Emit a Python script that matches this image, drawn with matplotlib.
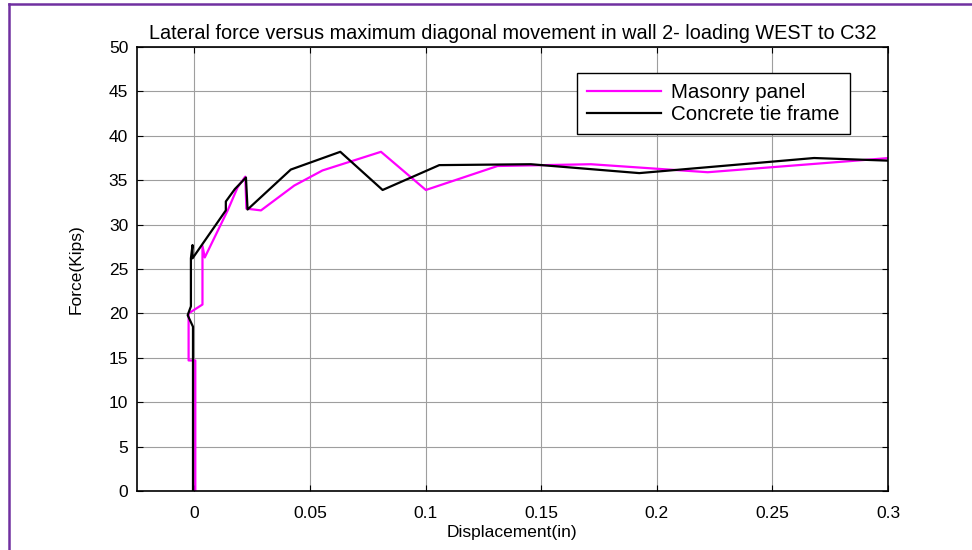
import matplotlib
matplotlib.use("Agg")
import matplotlib.pyplot as plt
from matplotlib.lines import Line2D

# ---------------------------------------------------------------------------
# Data
# ---------------------------------------------------------------------------

masonry_disp = [0.0004, 0.0004, -0.0025, -0.0025, 0.0035, 0.0035, 0.0045,
                0.0144, 0.0187, 0.0220, 0.0225, 0.0288, 0.0432, 0.0554,
                0.0807, 0.1001, 0.1311, 0.1715, 0.2220, 0.3005]
masonry_force = [0.0, 14.7, 14.7, 20.0, 21.0, 27.6, 26.3,
                 31.6, 34.2, 35.4, 31.8, 31.6, 34.4, 36.1,
                 38.2, 33.9, 36.6, 36.8, 35.9, 37.5]

frame_disp = [-0.0006, -0.0006, -0.0029, -0.0015, -0.0015, -0.0008, -0.0008,
              0.0136, 0.0136, 0.0175, 0.0223, 0.0230, 0.0417, 0.0631,
              0.0814, 0.1059, 0.1455, 0.1924, 0.2680, 0.3005]
frame_force = [0.0, 18.5, 19.8, 20.8, 26.2, 27.7, 26.2,
               31.6, 32.6, 34.0, 35.3, 31.7, 36.2, 38.2,
               33.9, 36.7, 36.8, 35.8, 37.5, 37.2]

x_ticks = [0, 0.05, 0.1, 0.15, 0.2, 0.25, 0.3]
x_tick_labels = ["0", "0.05", "0.1", "0.15", "0.2", "0.25", "0.3"]
y_ticks = list(range(0, 51, 5))

plt.rcParams["font.family"] = ["Liberation Sans", "DejaVu Sans"]

fig = plt.figure(figsize=(9.72, 5.5), dpi=100)
ax = fig.add_axes([0.1405, 0.1073, 0.7732, 0.8072])

ax.plot(masonry_disp, masonry_force, color="#ff00ff", lw=1.6, label="Masonry panel")
ax.plot(frame_disp, frame_force, color="black", lw=1.6, label="Concrete tie frame")

ax.set_xlim(-0.025, 0.3)
ax.set_ylim(0, 50)
ax.set_xticks(x_ticks)
ax.set_xticklabels(x_tick_labels)
ax.set_yticks(y_ticks)
ax.grid(True, color="0.62", lw=0.8)
ax.set_axisbelow(True)
ax.tick_params(direction="in", length=4, width=0.8, labelsize=12.5,
               top=True, right=True)
ax.tick_params(axis="x", pad=11)
ax.tick_params(axis="y", pad=6)
for sp in ax.spines.values():
    sp.set_linewidth(1.2)

ax.set_title("Lateral force versus maximum diagonal movement in wall 2- loading WEST to C32",
             fontsize=14.3, pad=6)
ax.set_xlabel("Displacement(in)", fontsize=12.5, labelpad=3)
ax.set_ylabel("Force(Kips)", fontsize=12.5, labelpad=18)

leg = ax.legend(loc="upper left", bbox_to_anchor=(0.5855, 0.942), fontsize=14.8,
                handlelength=3.6, handletextpad=0.5, frameon=True, fancybox=False,
                framealpha=1, edgecolor="black", borderpad=0.5, labelspacing=0.15,
                borderaxespad=0)
leg.get_frame().set_linewidth(1.0)

# purple page frame
fig.add_artist(Line2D([9 / 972, 9 / 972], [0, 1 - 4 / 550], transform=fig.transFigure,
                      color="#7030a0", lw=1.8))
fig.add_artist(Line2D([9 / 972, 1], [1 - 4 / 550, 1 - 4 / 550], transform=fig.transFigure,
                      color="#7030a0", lw=1.8))

fig.savefig("out.png", dpi=100, facecolor="white")
